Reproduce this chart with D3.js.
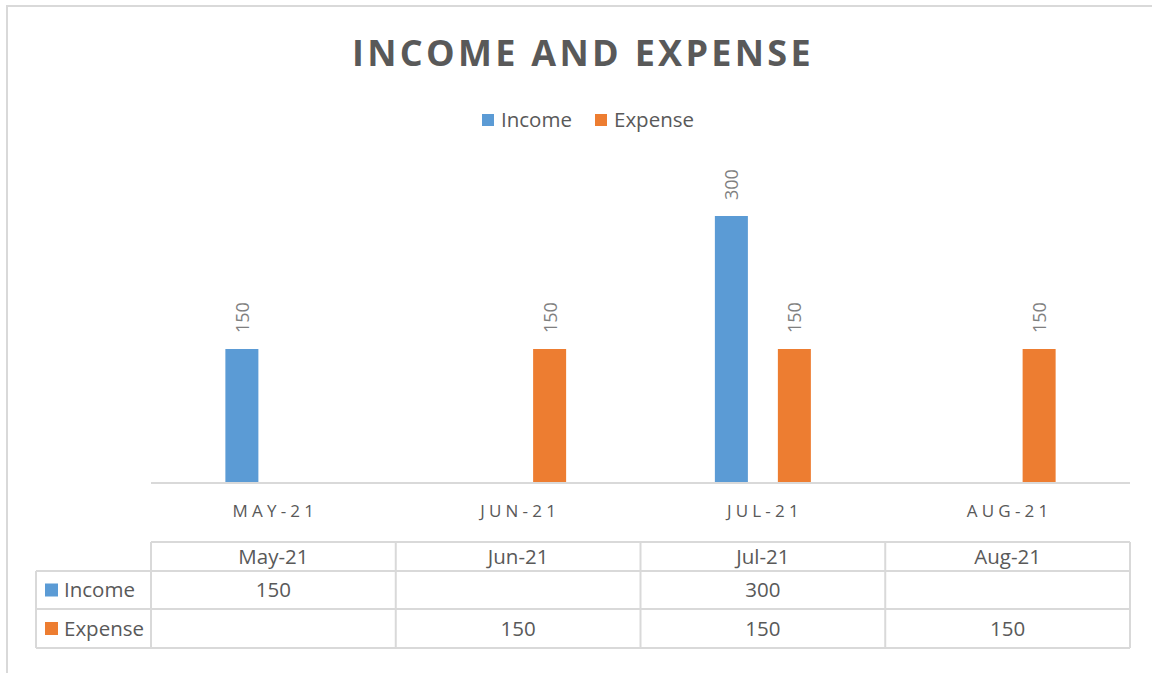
<!DOCTYPE html>
<html><head><meta charset="utf-8">
<script src="https://cdn.jsdelivr.net/npm/d3@7"></script>
<style>html,body{margin:0;padding:0;background:#fff;}svg{display:block;}</style>
</head><body>
<svg id="chart" width="1152" height="673"></svg>
<script>
const categories = ["May-21", "Jun-21", "Jul-21", "Aug-21"];
const axisLabels = ["MAY-21", "JUN-21", "JUL-21", "AUG-21"];
const seriesNames = ["Income", "Expense"];
const incomeValues = [150, null, 300, null];
const expenseValues = [null, 150, 150, 150];
const seriesColors = ["#5b9bd5", "#ed7d31"];
const titleText = "INCOME AND EXPENSE";

const values = [incomeValues, expenseValues];
const svg = d3.select("#chart");
const textColor = "#595959";
const lineColor = "#d9d9d9";
const font = "'Open Sans', 'Noto Sans', sans-serif";

// frame
svg.append("path").attr("d", "M7,673 V6 H1152").attr("fill", "none").attr("stroke", lineColor).attr("stroke-width", 2);

// title
svg.append("text").attr("x", 583).attr("y", 66).attr("text-anchor", "middle")
  .attr("font-family", font).attr("font-weight", "bold").attr("font-size", 36)
  .attr("letter-spacing", 3.3).attr("fill", textColor).text(titleText);

// legend
const legend = svg.append("g");
const legendX = [482, 595];
seriesNames.forEach((s, i) => {
  legend.append("rect").attr("x", legendX[i]).attr("y", 114).attr("width", 12).attr("height", 12).attr("fill", seriesColors[i]);
  legend.append("text").attr("x", legendX[i] + 19).attr("y", 127).attr("font-family", font)
    .attr("font-size", 20.5).attr("fill", textColor).text(s);
});

// scales
const x0 = d3.scaleBand().domain(categories).range([151, 1130]).paddingInner(0).paddingOuter(0);
const x1 = d3.scaleBand().domain(seriesNames).range([0, 96]).paddingInner(0.476).paddingOuter(0);
const y = d3.scaleLinear().domain([0, 300]).range([482, 216]);

// bars
seriesNames.forEach((s, si) => {
  const data = categories.map((c, ci) => ({c, v: values[si][ci]})).filter(d => d.v != null);
  const g = svg.append("g");
  g.selectAll("rect").data(data).join("rect")
    .attr("x", d => x0(d.c) + x0.bandwidth() / 2 - 48 + x1(s))
    .attr("y", d => y(d.v))
    .attr("width", x1.bandwidth())
    .attr("height", d => y(0) - y(d.v))
    .attr("fill", seriesColors[si]);
  g.selectAll("text").data(data).join("text")
    .attr("transform", d => `translate(${x0(d.c) + x0.bandwidth() / 2 - 48 + x1(s) + x1.bandwidth() / 2 + 7},${y(d.v) - 16}) rotate(-90)`)
    .attr("font-family", font).attr("font-size", 18).attr("fill", "#7f7f7f")
    .text(d => d.v);
});

// axis baseline
svg.append("line").attr("x1", 151).attr("x2", 1130).attr("y1", y(0) + 1).attr("y2", y(0) + 1)
  .attr("stroke", lineColor).attr("stroke-width", 2);

// category axis labels
svg.append("g").selectAll("text").data(categories).join("text")
  .attr("x", d => x0(d) + x0.bandwidth() / 2 + 2).attr("y", 517).attr("text-anchor", "middle")
  .attr("font-family", font).attr("font-size", 17).attr("letter-spacing", 4.2).attr("fill", textColor)
  .text((d, i) => axisLabels[i]);

// data table
const tbl = svg.append("g");
const rowY = [542, 571, 609, 648];
const colX = [151].concat(categories.map(c => x0(c) + x0.bandwidth()));
const line = (x1_, y1_, x2_, y2_) => tbl.append("line").attr("x1", x1_).attr("y1", y1_).attr("x2", x2_).attr("y2", y2_)
  .attr("stroke", lineColor).attr("stroke-width", 2);
line(151, rowY[0], 1130, rowY[0]);
line(36, rowY[1], 1130, rowY[1]);
line(36, rowY[2], 1130, rowY[2]);
line(36, rowY[3], 1130, rowY[3]);
line(36, rowY[1], 36, rowY[3]);
colX.forEach(x => line(x, rowY[0], x, rowY[3]));

tbl.selectAll("text.hdr").data(categories).join("text").attr("class", "hdr")
  .attr("x", d => x0(d) + x0.bandwidth() / 2).attr("y", 564).attr("text-anchor", "middle")
  .attr("font-family", font).attr("font-size", 20.5).attr("fill", textColor).text(d => d);

seriesNames.forEach((s, si) => {
  const cy = (rowY[si + 1] + rowY[si + 2]) / 2;
  tbl.append("rect").attr("x", 45).attr("y", cy - 6.5).attr("width", 13).attr("height", 13).attr("fill", seriesColors[si]);
  tbl.append("text").attr("x", 64).attr("y", cy + 7).attr("font-family", font).attr("font-size", 20.5)
    .attr("fill", textColor).text(s);
  tbl.append("g").selectAll("text").data(categories.map((c, ci) => ({c, v: values[si][ci]})).filter(d => d.v != null))
    .join("text").attr("x", d => x0(d.c) + x0.bandwidth() / 2).attr("y", cy + 7).attr("text-anchor", "middle")
    .attr("font-family", font).attr("font-size", 20.5).attr("fill", textColor).text(d => d.v);
});
</script>
</body></html>
